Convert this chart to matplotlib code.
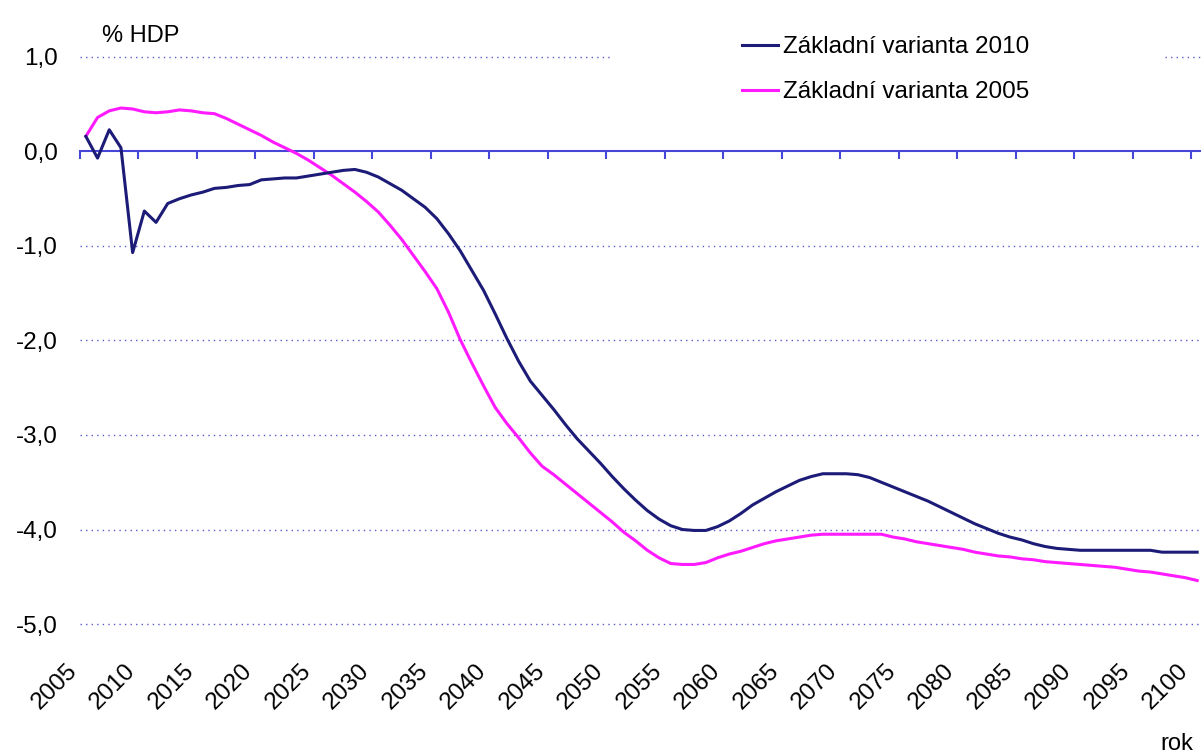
import matplotlib
matplotlib.use('Agg')
import matplotlib.pyplot as plt
import matplotlib.transforms as mtransforms
import numpy as np

years = np.arange(2005, 2101)

# Zakladni varianta 2010
var2010 = [0.16, -0.07, 0.23, 0.04, -1.07, -0.63, -0.75, -0.55, -0.50, -0.46,
           -0.43, -0.39, -0.38, -0.36, -0.35, -0.30, -0.29, -0.28, -0.28, -0.26,
           -0.24, -0.22, -0.20, -0.19, -0.22, -0.27, -0.34, -0.41, -0.50, -0.59,
           -0.71, -0.87, -1.05, -1.26, -1.47, -1.72, -1.98, -2.22, -2.43, -2.58,
           -2.73, -2.89, -3.04, -3.17, -3.30, -3.44, -3.57, -3.69, -3.80, -3.89,
           -3.96, -4.00, -4.01, -4.01, -3.97, -3.91, -3.83, -3.74, -3.67, -3.60,
           -3.54, -3.48, -3.44, -3.41, -3.41, -3.41, -3.42, -3.45, -3.50, -3.55,
           -3.60, -3.65, -3.70, -3.76, -3.82, -3.88, -3.94, -3.99, -4.04, -4.08,
           -4.11, -4.15, -4.18, -4.20, -4.21, -4.22, -4.22, -4.22, -4.22, -4.22,
           -4.22, -4.22, -4.24, -4.24, -4.24, -4.24]

# Zakladni varianta 2005
var2005 = [0.16, 0.36, 0.43, 0.46, 0.45, 0.42, 0.41, 0.42, 0.44, 0.43,
           0.41, 0.40, 0.35, 0.29, 0.23, 0.17, 0.10, 0.04, -0.02, -0.09,
           -0.17, -0.25, -0.34, -0.43, -0.53, -0.64, -0.78, -0.93, -1.10, -1.27,
           -1.45, -1.70, -1.99, -2.24, -2.48, -2.71, -2.88, -3.03, -3.19, -3.33,
           -3.42, -3.52, -3.62, -3.72, -3.82, -3.92, -4.03, -4.12, -4.22, -4.30,
           -4.36, -4.37, -4.37, -4.35, -4.30, -4.26, -4.23, -4.19, -4.15, -4.12,
           -4.10, -4.08, -4.06, -4.05, -4.05, -4.05, -4.05, -4.05, -4.05, -4.08,
           -4.10, -4.13, -4.15, -4.17, -4.19, -4.21, -4.24, -4.26, -4.28, -4.29,
           -4.31, -4.32, -4.34, -4.35, -4.36, -4.37, -4.38, -4.39, -4.40, -4.42,
           -4.44, -4.45, -4.47, -4.49, -4.51, -4.54]

ytick_vals = [1.0, 0.0, -1.0, -2.0, -3.0, -4.0, -5.0]
ytick_labels = ['1,0', '0,0', '-1,0', '-2,0', '-3,0', '-4,0', '-5,0']
xtick_labels = [str(y) for y in range(2005, 2101, 5)]

plt.rcParams['font.family'] = ['Liberation Sans', 'DejaVu Sans']

fig = plt.figure(figsize=(12.01, 7.55), dpi=100)
ax = fig.add_axes([80/1201, 1 - 624/755, 1123/1201, 567/755])

ax.set_xlim(2004.5, 2100.5)
ax.set_ylim(-5, 1)

grid_col = '#5a5ad0'
axis_col = '#4646d8'

# dotted gridlines (1,0 line is interrupted by the legend box)
for v in ytick_vals:
    if v == 0:
        continue
    if v == 1.0:
        ax.axhline(v, xmin=0, xmax=530/1123, color=grid_col, lw=1.0,
                   ls=(0, (1, 3)), clip_on=False, zorder=1)
        ax.axhline(v, xmin=1085/1123, xmax=1, color=grid_col, lw=1.0,
                   ls=(0, (1, 3)), clip_on=False, zorder=1)
    else:
        ax.axhline(v, color=grid_col, lw=1.0, ls=(0, (1, 3)),
                   clip_on=False, zorder=1)

l1, = ax.plot(years, var2010, color='#1c1c78', lw=2.2, zorder=4,
              label='Základní varianta 2010')
l2, = ax.plot(years, var2005, color='#ff1aff', lw=2.2, zorder=3,
              label='Základní varianta 2005')

for s in ['top', 'right', 'left']:
    ax.spines[s].set_visible(False)
ax.spines['bottom'].set_position(('data', 0))
ax.spines['bottom'].set_color(axis_col)
ax.spines['bottom'].set_linewidth(1.5)
ax.spines['bottom'].set_zorder(2)

xt = np.arange(2004.5, 2100.5, 5)
ax.set_xticks(xt)
ax.tick_params(axis='x', direction='out', length=6, width=1.5,
               color=axis_col, labelbottom=False)

ax.set_yticks(ytick_vals)
ax.set_yticklabels(ytick_labels)
ax.tick_params(axis='y', length=0, pad=16, labelsize=17.5)

# year labels at the bottom of the plot area
sec = ax.secondary_xaxis('bottom')
sec.spines['bottom'].set_visible(False)
sec.set_xticks(xt)
sec.set_xticklabels(xtick_labels, rotation=45, ha='right',
                    rotation_mode='anchor', fontsize=17.5)
sec.tick_params(axis='x', length=0, pad=26)
shift = mtransforms.ScaledTranslation(-14/100, 0, fig.dpi_scale_trans)
for lab in sec.get_xticklabels():
    lab.set_transform(lab.get_transform() + shift)

fig.text(102/1201, 1 - 42/755, '% HDP', fontsize=17, va='baseline')
fig.text(1193/1201, 1 - 750/755, 'rok', fontsize=17, ha='right', va='baseline')

ax.legend(handles=[l1, l2], loc='upper left',
          bbox_to_anchor=(742/1201, 1 - 36/755), bbox_transform=fig.transFigure,
          frameon=False, fontsize=17.5, handlelength=1.5, handletextpad=0.2,
          borderpad=0, borderaxespad=0, labelspacing=0.95)

fig.savefig('out.png', dpi=100, facecolor='white')
